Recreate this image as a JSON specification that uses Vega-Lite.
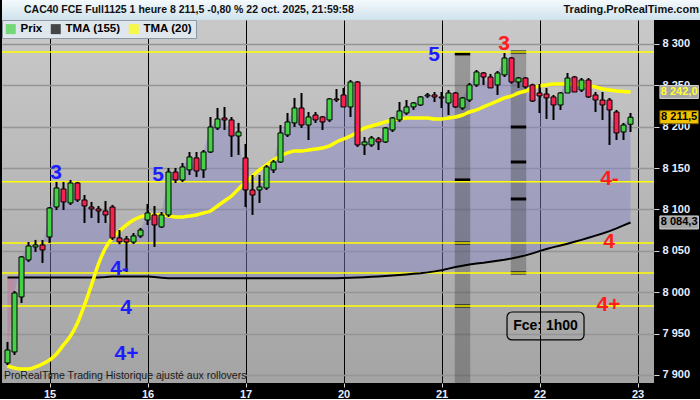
{
  "$schema": "https://vega.github.io/schema/vega-lite/v6.json",
  "background": "#000000",
  "padding": 0,
  "spacing": 0,
  "bounds": "flush",
  "resolve": {"scale": {"color": "independent"}, "legend": {"color": "independent"}},
  "config": {
    "view": {"stroke": null},
    "font": "Liberation Sans",
    "scale": {"continuousPadding": 0},
    "axis": {"domain": false, "labelFont": "Liberation Sans", "labelFontSize": 11, "labelFontWeight": "bold", "labelColor": "#e8eeff", "tickColor": "#d8d8d8", "tickSize": 4},
    "legend": {"orient": "top-left", "direction": "horizontal", "offset": 0, "padding": 3, "fillColor": "#dfe6ec", "strokeColor": "#8d9aa6", "symbolType": "square", "symbolSize": 100, "symbolStrokeWidth": 0, "labelFont": "Liberation Sans", "labelFontSize": 11.5, "labelFontWeight": "bold", "labelColor": "#000000", "columnPadding": 7, "labelOffset": 4}
  },
  "datasets": {
    "candles": [
      {"t":-6,"o":7914.5,"h":7939.9,"l":7912.1,"c":7930.2,"m20":7910.9,"m155":8017.9},
      {"t":-5,"o":7927.8,"h":8001.5,"l":7924.2,"c":7999.1,"m20":7908.5,"m155":8017.9},
      {"t":-4,"o":7994.3,"h":8043.8,"l":7987.0,"c":8042.6,"m20":7907.3,"m155":8017.9},
      {"t":-3,"o":8039.0,"h":8060.7,"l":8036.6,"c":8055.9,"m20":7907.3,"m155":8017.9},
      {"t":-2,"o":8054.7,"h":8063.2,"l":8048.7,"c":8057.1,"m20":7909.7,"m155":8017.9},
      {"t":-1,"o":8057.1,"h":8063.2,"l":8035.4,"c":8051.1,"m20":7913.3,"m155":8017.9},
      {"t":0,"o":8066.8,"h":8103.0,"l":8059.5,"c":8101.8,"m20":7918.1,"m155":8017.9},
      {"t":1,"o":8103.0,"h":8133.3,"l":8099.4,"c":8126.0,"m20":7925.4,"m155":8017.9},
      {"t":2,"o":8124.8,"h":8133.3,"l":8099.4,"c":8109.1,"m20":7936.3,"m155":8017.9},
      {"t":3,"o":8107.9,"h":8135.7,"l":8105.5,"c":8132.0,"m20":7947.1,"m155":8017.9},
      {"t":4,"o":8132.0,"h":8133.3,"l":8109.1,"c":8111.5,"m20":7962.9,"m155":8017.9},
      {"t":5,"o":8111.5,"h":8117.5,"l":8083.7,"c":8104.2,"m20":7984.6,"m155":8017.9},
      {"t":6,"o":8103.0,"h":8109.1,"l":8089.7,"c":8100.6,"m20":8008.8,"m155":8017.9},
      {"t":7,"o":8100.6,"h":8104.2,"l":8083.7,"c":8098.2,"m20":8034.2,"m155":8017.9},
      {"t":8,"o":8098.2,"h":8110.3,"l":8083.7,"c":8093.4,"m20":8053.5,"m155":8018.3},
      {"t":9,"o":8103.0,"h":8105.5,"l":8063.2,"c":8065.6,"m20":8065.6,"m155":8018.9},
      {"t":10,"o":8065.6,"h":8075.2,"l":8058.0,"c":8061.0,"m20":8074.0,"m155":8019.1},
      {"t":11,"o":8064.4,"h":8068.0,"l":8024.5,"c":8060.7,"m20":8081.3,"m155":8019.1},
      {"t":12,"o":8060.7,"h":8071.6,"l":8058.3,"c":8068.0,"m20":8087.3,"m155":8019.1},
      {"t":13,"o":8068.0,"h":8077.7,"l":8065.6,"c":8075.2,"m20":8091.0,"m155":8019.1},
      {"t":14,"o":8087.3,"h":8106.7,"l":8081.3,"c":8095.8,"m20":8093.4,"m155":8019.1},
      {"t":15,"o":8093.4,"h":8104.2,"l":8054.7,"c":8081.3,"m20":8093.4,"m155":8018.5},
      {"t":16,"o":8078.9,"h":8097.0,"l":8077.7,"c":8093.4,"m20":8093.4,"m155":8017.6},
      {"t":17,"o":8093.4,"h":8150.2,"l":8091.0,"c":8145.3,"m20":8092.2,"m155":8016.8},
      {"t":18,"o":8145.3,"h":8150.2,"l":8132.0,"c":8135.7,"m20":8091.0,"m155":8016.8},
      {"t":19,"o":8135.7,"h":8156.2,"l":8133.3,"c":8151.4,"m20":8091.0,"m155":8016.8},
      {"t":20,"o":8147.8,"h":8169.5,"l":8141.7,"c":8163.5,"m20":8092.2,"m155":8016.8},
      {"t":21,"o":8162.3,"h":8169.5,"l":8139.3,"c":8146.5,"m20":8093.4,"m155":8016.8},
      {"t":22,"o":8147.8,"h":8171.9,"l":8138.1,"c":8169.5,"m20":8095.8,"m155":8016.8},
      {"t":23,"o":8169.5,"h":8211.8,"l":8168.3,"c":8199.7,"m20":8098.2,"m155":8016.8},
      {"t":24,"o":8198.5,"h":8222.7,"l":8196.1,"c":8209.4,"m20":8104.2,"m155":8016.8},
      {"t":25,"o":8210.6,"h":8223.9,"l":8196.1,"c":8208.2,"m20":8110.3,"m155":8016.8},
      {"t":26,"o":8208.2,"h":8211.8,"l":8163.5,"c":8188.8,"m20":8116.3,"m155":8016.8},
      {"t":27,"o":8188.8,"h":8204.6,"l":8165.9,"c":8193.7,"m20":8124.8,"m155":8016.8},
      {"t":28,"o":8162.3,"h":8179.2,"l":8103.0,"c":8123.6,"m20":8133.3,"m155":8016.8},
      {"t":29,"o":8123.6,"h":8141.7,"l":8093.4,"c":8117.5,"m20":8140.5,"m155":8016.8},
      {"t":30,"o":8123.6,"h":8141.7,"l":8107.9,"c":8127.2,"m20":8147.8,"m155":8016.8},
      {"t":31,"o":8126.0,"h":8153.8,"l":8123.6,"c":8151.4,"m20":8153.8,"m155":8016.8},
      {"t":32,"o":8147.8,"h":8159.8,"l":8144.1,"c":8157.4,"m20":8159.8,"m155":8016.8},
      {"t":33,"o":8157.4,"h":8202.1,"l":8156.2,"c":8192.5,"m20":8164.7,"m155":8016.8},
      {"t":34,"o":8190.1,"h":8216.6,"l":8187.6,"c":8205.8,"m20":8168.3,"m155":8016.8},
      {"t":35,"o":8204.6,"h":8234.8,"l":8199.7,"c":8222.7,"m20":8170.7,"m155":8016.8},
      {"t":36,"o":8222.7,"h":8240.8,"l":8198.5,"c":8202.1,"m20":8170.7,"m155":8016.8},
      {"t":37,"o":8202.1,"h":8217.8,"l":8184.0,"c":8211.8,"m20":8171.9,"m155":8016.8},
      {"t":38,"o":8214.2,"h":8217.8,"l":8204.6,"c":8208.2,"m20":8173.1,"m155":8016.8},
      {"t":39,"o":8211.8,"h":8213.0,"l":8196.1,"c":8205.8,"m20":8174.3,"m155":8016.8},
      {"t":40,"o":8208.2,"h":8234.8,"l":8205.8,"c":8233.6,"m20":8176.8,"m155":8016.8},
      {"t":41,"o":8233.6,"h":8245.6,"l":8229.9,"c":8232.3,"m20":8181.6,"m155":8016.9},
      {"t":42,"o":8238.4,"h":8246.9,"l":8223.9,"c":8223.9,"m20":8185.2,"m155":8017.2},
      {"t":43,"o":8223.9,"h":8256.5,"l":8211.8,"c":8254.1,"m20":8188.8,"m155":8017.5},
      {"t":44,"o":8254.1,"h":8255.3,"l":8175.6,"c":8178.0,"m20":8193.7,"m155":8017.8},
      {"t":45,"o":8178.0,"h":8187.6,"l":8165.9,"c":8181.6,"m20":8198.5,"m155":8018.2},
      {"t":46,"o":8178.0,"h":8188.8,"l":8175.6,"c":8186.4,"m20":8200.9,"m155":8018.6},
      {"t":47,"o":8185.2,"h":8187.6,"l":8171.9,"c":8181.6,"m20":8203.3,"m155":8019.1},
      {"t":48,"o":8181.6,"h":8199.7,"l":8180.4,"c":8198.5,"m20":8205.8,"m155":8019.6},
      {"t":49,"o":8196.1,"h":8211.8,"l":8193.7,"c":8210.6,"m20":8208.2,"m155":8020.2},
      {"t":50,"o":8208.2,"h":8229.9,"l":8205.8,"c":8219.1,"m20":8209.4,"m155":8020.9},
      {"t":51,"o":8216.6,"h":8232.3,"l":8214.2,"c":8223.9,"m20":8210.6,"m155":8021.5},
      {"t":52,"o":8223.9,"h":8229.9,"l":8220.3,"c":8228.7,"m20":8210.6,"m155":8022.2},
      {"t":53,"o":8226.3,"h":8237.2,"l":8225.1,"c":8236.0,"m20":8210.6,"m155":8023.0},
      {"t":54,"o":8237.2,"h":8240.8,"l":8234.8,"c":8238.4,"m20":8210.6,"m155":8024.0},
      {"t":55,"o":8238.4,"h":8242.0,"l":8229.9,"c":8236.0,"m20":8209.4,"m155":8025.2},
      {"t":56,"o":8236.0,"h":8242.0,"l":8222.7,"c":8234.8,"m20":8209.4,"m155":8026.6},
      {"t":57,"o":8228.7,"h":8244.4,"l":8214.2,"c":8240.8,"m20":8210.6,"m155":8028.5},
      {"t":58,"o":8240.8,"h":8242.0,"l":8222.7,"c":8223.9,"m20":8211.8,"m155":8030.5},
      {"t":59,"o":8222.7,"h":8236.0,"l":8220.3,"c":8234.8,"m20":8214.2,"m155":8032.0},
      {"t":60,"o":8232.3,"h":8252.9,"l":8229.9,"c":8250.5,"m20":8217.8,"m155":8033.5},
      {"t":61,"o":8250.5,"h":8268.6,"l":8248.1,"c":8266.2,"m20":8220.3,"m155":8034.6},
      {"t":62,"o":8265.0,"h":8266.2,"l":8250.5,"c":8260.1,"m20":8223.9,"m155":8035.6},
      {"t":63,"o":8260.1,"h":8263.8,"l":8246.9,"c":8246.9,"m20":8227.5,"m155":8036.8},
      {"t":64,"o":8250.5,"h":8267.4,"l":8238.4,"c":8265.0,"m20":8231.1,"m155":8038.0},
      {"t":65,"o":8262.6,"h":8289.1,"l":8260.1,"c":8283.1,"m20":8234.8,"m155":8039.3},
      {"t":66,"o":8283.1,"h":8284.3,"l":8252.0,"c":8254.1,"m20":8237.2,"m155":8040.8},
      {"t":67,"o":8254.1,"h":8260.1,"l":8246.9,"c":8258.9,"m20":8240.8,"m155":8042.5},
      {"t":68,"o":8258.9,"h":8260.1,"l":8246.0,"c":8248.1,"m20":8243.2,"m155":8044.5},
      {"t":69,"o":8250.5,"h":8252.0,"l":8229.9,"c":8231.1,"m20":8246.9,"m155":8047.0},
      {"t":70,"o":8240.8,"h":8251.7,"l":8216.6,"c":8237.2,"m20":8249.3,"m155":8049.7},
      {"t":71,"o":8239.6,"h":8246.9,"l":8209.4,"c":8234.8,"m20":8250.5,"m155":8052.3},
      {"t":72,"o":8236.0,"h":8238.4,"l":8208.2,"c":8226.3,"m20":8251.7,"m155":8054.5},
      {"t":73,"o":8226.3,"h":8242.0,"l":8220.3,"c":8240.8,"m20":8251.7,"m155":8056.5},
      {"t":74,"o":8240.8,"h":8265.0,"l":8240.8,"c":8258.9,"m20":8251.7,"m155":8058.6},
      {"t":75,"o":8260.1,"h":8261.4,"l":8242.0,"c":8242.0,"m20":8251.7,"m155":8060.9},
      {"t":76,"o":8244.4,"h":8258.9,"l":8242.0,"c":8256.5,"m20":8250.5,"m155":8063.3},
      {"t":77,"o":8256.5,"h":8258.9,"l":8234.8,"c":8236.0,"m20":8249.3,"m155":8065.8},
      {"t":78,"o":8238.4,"h":8242.0,"l":8217.8,"c":8232.3,"m20":8248.1,"m155":8068.4},
      {"t":79,"o":8232.3,"h":8242.0,"l":8208.2,"c":8226.3,"m20":8245.6,"m155":8071.0},
      {"t":80,"o":8232.3,"h":8234.8,"l":8178.0,"c":8220.3,"m20":8244.4,"m155":8073.9},
      {"t":81,"o":8217.8,"h":8220.3,"l":8184.0,"c":8192.5,"m20":8243.2,"m155":8077.2},
      {"t":82,"o":8193.7,"h":8204.6,"l":8184.0,"c":8202.1,"m20":8242.6,"m155":8080.8},
      {"t":83,"o":8203.0,"h":8216.6,"l":8193.7,"c":8211.5,"m20":8242.0,"m155":8084.3}
    ],
    "levels": [{"p":8290.3},{"p":8133.6},{"p":8059.5},{"p":8023.3},{"p":7983.4}],
    "bands": [{"a":57.9,"b":60.1,"top":8288.0,"bot":7890.3},{"a":65.9,"b":68.1,"top":8290.3,"bot":8023.3}],
    "dashes": [
      {"a":57.9,"b":60.1,"p":8288.0},{"a":57.9,"b":60.1,"p":8135.7},{"a":57.9,"b":60.1,"p":8059.5},{"a":57.9,"b":60.1,"p":7983.4},
      {"a":65.9,"b":68.1,"p":8290.3},{"a":65.9,"b":68.1,"p":8199.7},{"a":65.9,"b":68.1,"p":8157.4},{"a":65.9,"b":68.1,"p":8112.7},{"a":65.9,"b":68.1,"p":8023.3}
    ],
    "blue": [
      {"t":0.93,"p":8143.5,"txt":"3"},{"t":15.5,"p":8141.7,"txt":"5"},{"t":10.0,"p":8027.5,"txt":"4-"},
      {"t":10.93,"p":7981.0,"txt":"4"},{"t":11.0,"p":7924.8,"txt":"4+"},{"t":54.93,"p":8286.1,"txt":"5"}
    ],
    "red": [
      {"t":64.93,"p":8300.0,"txt":"3"},{"t":80.0,"p":8136.3,"txt":"4-"},{"t":79.93,"p":8061.3,"txt":"4"},{"t":79.86,"p":7984.0,"txt":"4+"}
    ],
    "tags": [
      {"k":"tma20","p":8242.0,"label":"8 242,0"},
      {"k":"last","p":8211.5,"label":"8 211,5"},
      {"k":"tma155","p":8084.3,"label":"8 084,3"}
    ],
    "series": [{"s":"Prix"},{"s":"TMA (155)"},{"s":"TMA (20)"}]
  },
  "vconcat": [
    {
      "width": 700,
      "height": 20,
      "view": {"fill": {"gradient": "linear", "x1": 0, "y1": 0, "x2": 0, "y2": 1, "stops": [{"offset": 0, "color": "#f4fafd"}, {"offset": 1, "color": "#cfe2ec"}]}, "stroke": null},
      "layer": [
        {
          "data": {"values": [{"side": "l", "txt": "CAC40 FCE Full1125 1 heure 8 211,5 -0,80 % 22 oct. 2025, 21:59:58"}]},
          "mark": {"type": "text", "align": "left", "baseline": "middle", "dx": 22, "fontSize": 10.5, "fontWeight": "bold", "color": "#111111"},
          "encoding": {
            "x": {"field": "side", "type": "nominal", "scale": {"type": "point", "domain": ["l", "r"], "padding": 0}, "axis": null},
            "text": {"field": "txt"}
          }
        },
        {
          "data": {"values": [{"side": "r", "txt": "Trading.ProRealTime.com"}]},
          "mark": {"type": "text", "align": "right", "baseline": "middle", "dx": -3, "fontSize": 11, "fontWeight": "bold", "color": "#111111"},
          "encoding": {
            "x": {"field": "side", "type": "nominal", "scale": {"type": "point", "domain": ["l", "r"], "padding": 0}, "axis": null},
            "text": {"field": "txt"}
          }
        }
      ]
    },
    {
      "width": 652,
      "height": 363,
      "view": {"fill": {"gradient": "linear", "x1": 0, "y1": 0, "x2": 0, "y2": 1, "stops": [{"offset": 0, "color": "#c9c9c9"}, {"offset": 1, "color": "#a4a4a4"}]}, "stroke": null},
      "layer": [
        {
          "data": {"name": "candles"},
          "mark": {"type": "area", "color": "#8585c8", "opacity": 0.45},
          "encoding": {
            "x": {"field": "t", "type": "quantitative", "title": null, "scale": {"domain": [-6.786, 86.357], "nice": false, "zero": false, "padding": 0},
                  "axis": {"orient": "bottom", "values": [0, 14, 28, 42, 56, 70, 84], "labelExpr": "['15','16','17','20','21','22','23'][round(datum.value/14)]", "grid": true, "gridColor": "#000000", "gridWidth": 1, "labelFlush": false, "labelOverlap": false, "labelPadding": 1, "tickSize": 4}},
            "y": {"field": "c", "type": "quantitative", "title": null, "scale": {"domain": [7890.3, 8329.0], "nice": false, "zero": false, "padding": 0},
                  "axis": {"orient": "right", "values": [7900, 7950, 8000, 8050, 8100, 8150, 8200, 8250, 8300], "labelExpr": "replace(format(datum.value, ','), ',', ' ')", "grid": true, "gridColor": "#959595", "gridWidth": 1.5, "tickSize": 5, "labelPadding": 3}},
            "y2": {"field": "m155"}
          }
        },
        {
          "data": {"name": "candles"},
          "transform": [{"filter": "datum.t <= -5"}],
          "mark": {"type": "area", "color": "#ff7070", "opacity": 0.3},
          "encoding": {
            "x": {"field": "t", "type": "quantitative", "title": null, "scale": {"domain": [-6.786, 86.357], "nice": false, "zero": false, "padding": 0}},
            "y": {"field": "c", "type": "quantitative", "title": null, "scale": {"domain": [7890.3, 8329.0], "nice": false, "zero": false, "padding": 0}},
            "y2": {"field": "m155"}
          }
        },
        {
          "data": {"name": "bands"},
          "mark": {"type": "rect", "color": "#303030", "opacity": 0.3},
          "encoding": {
            "x": {"field": "a", "type": "quantitative", "title": null, "scale": {"domain": [-6.786, 86.357], "nice": false, "zero": false, "padding": 0}},
            "x2": {"field": "b"},
            "y": {"field": "top", "type": "quantitative", "title": null, "scale": {"domain": [7890.3, 8329.0], "nice": false, "zero": false, "padding": 0}},
            "y2": {"field": "bot"}
          }
        },
        {
          "data": {"name": "dashes"},
          "mark": {"type": "rule", "color": "#000000", "strokeWidth": 3},
          "encoding": {
            "x": {"field": "a", "type": "quantitative", "title": null, "scale": {"domain": [-6.786, 86.357], "nice": false, "zero": false, "padding": 0}},
            "x2": {"field": "b"},
            "y": {"field": "p", "type": "quantitative", "title": null, "scale": {"domain": [7890.3, 8329.0], "nice": false, "zero": false, "padding": 0}}
          }
        },
        {
          "data": {"name": "levels"},
          "mark": {"type": "rule", "color": "#ffff00", "strokeWidth": 1.5},
          "encoding": {
            "y": {"field": "p", "type": "quantitative", "title": null, "scale": {"domain": [7890.3, 8329.0], "nice": false, "zero": false, "padding": 0}}
          }
        },
        {
          "data": {"name": "candles"},
          "mark": {"type": "line", "color": "#000000", "strokeWidth": 2},
          "encoding": {
            "x": {"field": "t", "type": "quantitative", "title": null, "scale": {"domain": [-6.786, 86.357], "nice": false, "zero": false, "padding": 0}},
            "y": {"field": "m155", "type": "quantitative", "title": null, "scale": {"domain": [7890.3, 8329.0], "nice": false, "zero": false, "padding": 0}}
          }
        },
        {
          "data": {"name": "candles"},
          "mark": {"type": "line", "color": "#ffff00", "strokeWidth": 3.5, "interpolate": "monotone"},
          "encoding": {
            "x": {"field": "t", "type": "quantitative", "title": null, "scale": {"domain": [-6.786, 86.357], "nice": false, "zero": false, "padding": 0}},
            "y": {"field": "m20", "type": "quantitative", "title": null, "scale": {"domain": [7890.3, 8329.0], "nice": false, "zero": false, "padding": 0}}
          }
        },
        {
          "data": {"name": "candles"},
          "mark": {"type": "rule", "color": "#000000", "strokeWidth": 2},
          "encoding": {
            "x": {"field": "t", "type": "quantitative", "title": null, "scale": {"domain": [-6.786, 86.357], "nice": false, "zero": false, "padding": 0}},
            "y": {"field": "l", "type": "quantitative", "title": null, "scale": {"domain": [7890.3, 8329.0], "nice": false, "zero": false, "padding": 0}},
            "y2": {"field": "h"}
          }
        },
        {
          "data": {"name": "candles"},
          "mark": {"type": "bar", "width": 5, "stroke": "#000000", "strokeWidth": 1},
          "encoding": {
            "x": {"field": "t", "type": "quantitative", "title": null, "scale": {"domain": [-6.786, 86.357], "nice": false, "zero": false, "padding": 0}},
            "y": {"field": "o", "type": "quantitative", "title": null, "scale": {"domain": [7890.3, 8329.0], "nice": false, "zero": false, "padding": 0}},
            "y2": {"field": "c"},
            "fill": {"condition": {"test": "datum.c >= datum.o", "value": "#45d145"}, "value": "#f5224f"}
          }
        },
        {
          "data": {"name": "blue"},
          "mark": {"type": "text", "color": "#1c1cff", "fontSize": 21, "fontWeight": "bold", "baseline": "middle", "align": "center"},
          "encoding": {
            "x": {"field": "t", "type": "quantitative", "title": null, "scale": {"domain": [-6.786, 86.357], "nice": false, "zero": false, "padding": 0}},
            "y": {"field": "p", "type": "quantitative", "title": null, "scale": {"domain": [7890.3, 8329.0], "nice": false, "zero": false, "padding": 0}},
            "text": {"field": "txt"}
          }
        },
        {
          "data": {"name": "red"},
          "mark": {"type": "text", "color": "#ff1c1c", "fontSize": 21, "fontWeight": "bold", "baseline": "middle", "align": "center"},
          "encoding": {
            "x": {"field": "t", "type": "quantitative", "title": null, "scale": {"domain": [-6.786, 86.357], "nice": false, "zero": false, "padding": 0}},
            "y": {"field": "p", "type": "quantitative", "title": null, "scale": {"domain": [7890.3, 8329.0], "nice": false, "zero": false, "padding": 0}},
            "text": {"field": "txt"}
          }
        },
        {
          "data": {"values": [{"a": 65.36, "b": 76.36, "top": 7976.1, "bot": 7942.3}]},
          "mark": {"type": "rect", "filled": false, "stroke": "#000000", "strokeWidth": 1.2, "cornerRadius": 5},
          "encoding": {
            "x": {"field": "a", "type": "quantitative", "title": null, "scale": {"domain": [-6.786, 86.357], "nice": false, "zero": false, "padding": 0}},
            "x2": {"field": "b"},
            "y": {"field": "top", "type": "quantitative", "title": null, "scale": {"domain": [7890.3, 8329.0], "nice": false, "zero": false, "padding": 0}},
            "y2": {"field": "bot"}
          }
        },
        {
          "data": {"values": [{"t": 70.86, "p": 7959.2, "txt": "Fce: 1h00"}]},
          "mark": {"type": "text", "color": "#000000", "fontSize": 14, "fontWeight": "bold", "baseline": "middle", "align": "center"},
          "encoding": {
            "x": {"field": "t", "type": "quantitative", "title": null, "scale": {"domain": [-6.786, 86.357], "nice": false, "zero": false, "padding": 0}},
            "y": {"field": "p", "type": "quantitative", "title": null, "scale": {"domain": [7890.3, 8329.0], "nice": false, "zero": false, "padding": 0}},
            "text": {"field": "txt"}
          }
        },
        {
          "data": {"values": [{"t": -6.5, "p": 7898.8, "txt": "ProRealTime Trading  Historique ajusté aux rollovers"}]},
          "mark": {"type": "text", "color": "#1a1a1a", "fontSize": 10.5, "baseline": "middle", "align": "left"},
          "encoding": {
            "x": {"field": "t", "type": "quantitative", "title": null, "scale": {"domain": [-6.786, 86.357], "nice": false, "zero": false, "padding": 0}},
            "y": {"field": "p", "type": "quantitative", "title": null, "scale": {"domain": [7890.3, 8329.0], "nice": false, "zero": false, "padding": 0}},
            "text": {"field": "txt"}
          }
        },
        {
          "data": {"name": "tags"},
          "mark": {"type": "bar", "height": 13, "strokeWidth": 1},
          "encoding": {
            "x": {"datum": 87.2, "type": "quantitative", "title": null, "scale": {"domain": [-6.786, 86.357], "nice": false, "zero": false, "padding": 0}},
            "x2": {"datum": 92.7},
            "y": {"field": "p", "type": "quantitative", "title": null, "scale": {"domain": [7890.3, 8329.0], "nice": false, "zero": false, "padding": 0}},
            "fill": {"condition": {"test": "datum.k == 'last'", "value": "#f2c200"}, "value": "#a6a6a6"},
            "stroke": {"condition": {"test": "datum.k == 'last'", "value": "#7a6000"}, "value": "#d0d0d0"}
          }
        },
        {
          "data": {"name": "tags"},
          "mark": {"type": "text", "fontSize": 11, "fontWeight": "bold", "baseline": "middle", "align": "center"},
          "encoding": {
            "x": {"datum": 89.95, "type": "quantitative", "title": null, "scale": {"domain": [-6.786, 86.357], "nice": false, "zero": false, "padding": 0}},
            "y": {"field": "p", "type": "quantitative", "title": null, "scale": {"domain": [7890.3, 8329.0], "nice": false, "zero": false, "padding": 0}},
            "text": {"field": "label"},
            "fill": {"condition": {"test": "datum.k == 'tma20'", "value": "#ffff30"}, "value": "#000000"}
          }
        },
        {
          "data": {"name": "series"},
          "mark": {"type": "point", "filled": true, "shape": "square", "size": 0},
          "encoding": {
            "color": {"field": "s", "type": "nominal", "scale": {"domain": ["Prix", "TMA (155)", "TMA (20)"], "range": ["#45d145", "#000000", "#ffff00"]},
                      "legend": {"title": null, "orient": "top-left"}}
          }
        }
      ]
    }
  ]
}
